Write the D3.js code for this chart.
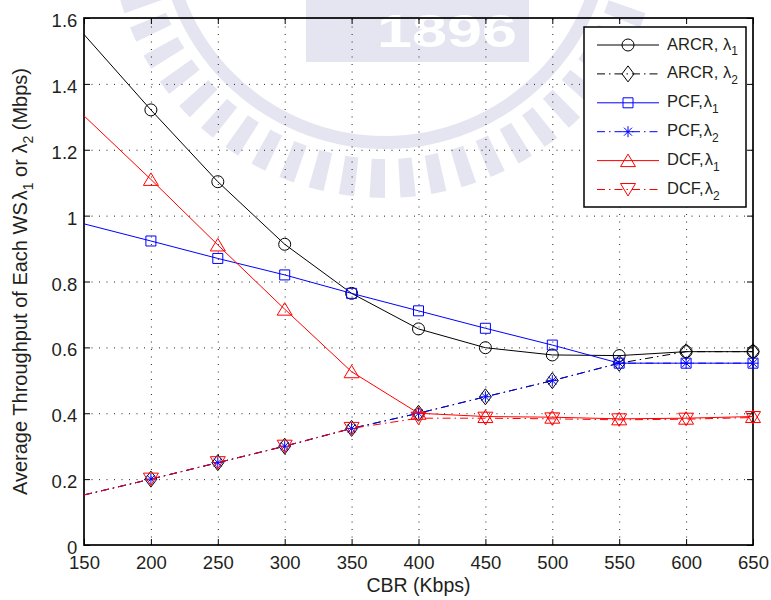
<!DOCTYPE html>
<html>
<head>
<meta charset="utf-8">
<script src="https://cdn.jsdelivr.net/npm/d3@7/dist/d3.min.js"></script>
<style>
  body { margin: 0; background: #fff; }
  svg { display: block; }
  text { font-family: "Liberation Sans", Arial, Helvetica, sans-serif; fill: #231f20; }
</style>
</head>
<body>
<svg id="chart" width="771" height="600"></svg>
<script>
// CBR load (Kbps) on the x axis
const cbr = [150, 200, 250, 300, 350, 400, 450, 500, 550, 600, 650];

// Average throughput (Mbps) per scheme and flow
const arcrL1 = [1.550, 1.321, 1.103, 0.913, 0.764, 0.656, 0.599, 0.577, 0.575, 0.587, 0.587];
const arcrL2 = [0.152, 0.200, 0.250, 0.300, 0.354, 0.400, 0.450, 0.499, 0.552, 0.587, 0.587];
const pcfL1  = [0.975, 0.923, 0.870, 0.820, 0.764, 0.711, 0.658, 0.607, 0.552, 0.552, 0.552];
const pcfL2  = [0.152, 0.200, 0.250, 0.300, 0.354, 0.400, 0.450, 0.499, 0.552, 0.552, 0.552];
const dcfL1  = [1.303, 1.110, 0.911, 0.716, 0.526, 0.400, 0.390, 0.388, 0.383, 0.385, 0.390];
const dcfL2  = [0.152, 0.200, 0.250, 0.300, 0.354, 0.385, 0.385, 0.383, 0.380, 0.382, 0.387];

// Axis ticks
const xTicks = [150, 200, 250, 300, 350, 400, 450, 500, 550, 600, 650];
const yTicks = [0, 0.2, 0.4, 0.6, 0.8, 1.0, 1.2, 1.4, 1.6];
const yTickLabels = ["0", "0.2", "0.4", "0.6", "0.8", "1", "1.2", "1.4", "1.6"];

// Legend entries: [scheme label, flow subscript]
const seriesNames = [["ARCR, ", "1"], ["ARCR, ", "2"], ["PCF,", "1"], ["PCF,", "2"], ["DCF,", "1"], ["DCF,", "2"]];

const svg = d3.select("#chart");
const pL = 84, pR = 753, pT = 18, pB = 545;
const x = d3.scaleLinear().domain([150, 650]).range([pL, pR]);
const y = d3.scaleLinear().domain([0, 1.6]).range([pB, pT]);

// ---- faint background emblem ----
const wm = svg.append("g").attr("fill", "#e5e5f1");
const ecx = 385, ecy = -78;
wm.append("path")
  .attr("transform", `translate(${ecx},${ecy})`)
  .attr("d", d3.arc()({ innerRadius: 214, outerRadius: 227, startAngle: 0, endAngle: 2 * Math.PI }));
const nRays = 56;
for (let i = 0; i < nRays; i++) {
  const a = (i / nRays) * 2 * Math.PI;
  wm.append("path")
    .attr("transform", `translate(${ecx},${ecy})`)
    .attr("d", d3.arc()({ innerRadius: 237, outerRadius: 276, startAngle: a, endAngle: a + (2 * Math.PI / nRays) * 0.5 }));
}
wm.append("rect").attr("x", 306).attr("y", 0).attr("width", 223).attr("height", 62);
wm.append("text")
  .attr("x", 377).attr("y", 47)
  .attr("textLength", 140).attr("lengthAdjust", "spacingAndGlyphs")
  .style("font-size", "47px").style("font-weight", "bold").style("fill", "#ffffff")
  .text("1896");

// ---- grid ----
const gridStyle = g => g.selectAll("line")
  .attr("stroke", "#222").attr("stroke-width", 1).attr("stroke-dasharray", "1,6.5");
svg.append("g")
  .attr("transform", `translate(0,${pB})`)
  .call(d3.axisBottom(x).tickValues(xTicks.slice(1, -1)).tickSize(-(pB - pT)).tickFormat(""))
  .call(g => g.select(".domain").remove())
  .call(gridStyle);
svg.append("g")
  .attr("transform", `translate(${pL},0)`)
  .call(d3.axisLeft(y).tickValues(yTicks.slice(1, -1)).tickSize(-(pR - pL)).tickFormat(""))
  .call(g => g.select(".domain").remove())
  .call(gridStyle);

// ---- axes with inward ticks on all four sides ----
const tickLen = 6;
const axisStyle = g => {
  g.select(".domain").remove();
  g.selectAll(".tick line").attr("stroke", "#000").attr("stroke-width", 1);
  g.selectAll("text").attr("font-family", null).style("font-size", "18.5px").style("fill", "#231f20");
};
svg.append("g")
  .attr("transform", `translate(0,${pB})`)
  .call(d3.axisBottom(x).tickValues(xTicks).tickSize(-tickLen).tickPadding(10.5).tickFormat(d3.format("d")))
  .call(axisStyle);
svg.append("g")
  .attr("transform", `translate(${pL},0)`)
  .call(d3.axisLeft(y).tickValues(yTicks).tickSize(-tickLen).tickPadding(6.7)
    .tickFormat((d, i) => yTickLabels[i]))
  .call(axisStyle)
  .call(g => g.selectAll("text").attr("dy", "0.46em"));
svg.append("g")
  .attr("transform", `translate(0,${pT})`)
  .call(d3.axisTop(x).tickValues(xTicks).tickSize(-tickLen).tickFormat(""))
  .call(axisStyle);
svg.append("g")
  .attr("transform", `translate(${pR},0)`)
  .call(d3.axisRight(y).tickValues(yTicks).tickSize(-tickLen).tickFormat(""))
  .call(axisStyle);

svg.append("rect")
  .attr("x", pL).attr("y", pT).attr("width", pR - pL).attr("height", pB - pT)
  .attr("fill", "none").attr("stroke", "#000").attr("stroke-width", 1.7);

// ---- axis titles ----
svg.append("text")
  .attr("x", (pL + pR) / 2).attr("y", 592)
  .attr("text-anchor", "middle").style("font-size", "19.5px")
  .text("CBR (Kbps)");

const yTitle = svg.append("text")
  .attr("transform", `translate(26.5,${(pT + pB) / 2}) rotate(-90)`)
  .attr("text-anchor", "middle").style("font-size", "20px");
yTitle.append("tspan").text("Average Throughput of Each WS");
yTitle.append("tspan").attr("dx", 2).text("λ");
yTitle.append("tspan").attr("dy", 6).style("font-size", "14px").text("1");
yTitle.append("tspan").attr("dy", -6).text(" or λ");
yTitle.append("tspan").attr("dy", 6).style("font-size", "14px").text("2");
yTitle.append("tspan").attr("dy", -6).text(" (Mbps)");

// ---- markers ----
const markerPath = {
  circle: "M6,0A6,6 0 1,1 -6,0A6,6 0 1,1 6,0Z",
  diamond: "M0,-8L6,0L0,8L-6,0Z",
  square: "M-5,-5H5V5H-5Z",
  asterisk: "M0,-5.5V5.5M-5.5,0H5.5M-4,-4L4,4M-4,4L4,-4",
  triUp: "M0,-6.5L7.5,6L-7.5,6Z",
  triDown: "M0,6.5L7.5,-6L-7.5,-6Z"
};

const series = [
  { values: arcrL1, color: "#000000", dash: null, marker: "circle" },
  { values: arcrL2, color: "#000000", dash: "8,4,1.5,4", marker: "diamond" },
  { values: pcfL1,  color: "#0000ff", dash: null, marker: "square" },
  { values: pcfL2,  color: "#0000ff", dash: "8,4,1.5,4", marker: "asterisk" },
  { values: dcfL1,  color: "#ff0000", dash: null, marker: "triUp" },
  { values: dcfL2,  color: "#ff0000", dash: "8,4,1.5,4", marker: "triDown" }
];

const line = d3.line().x(d => x(d[0])).y(d => y(d[1]));

series.forEach(s => {
  const pts = cbr.map((c, i) => [c, s.values[i]]);
  const g = svg.append("g");
  g.append("path")
    .attr("d", line(pts))
    .attr("fill", "none").attr("stroke", s.color).attr("stroke-width", 1)
    .attr("stroke-dasharray", s.dash);
  // markers at the simulated CBR points (the 150 Kbps start has none)
  g.selectAll("path.m").data(pts.slice(1)).join("path")
    .attr("class", "m")
    .attr("transform", d => `translate(${x(d[0])},${y(d[1])})`)
    .attr("d", markerPath[s.marker])
    .attr("fill", "none").attr("stroke", s.color).attr("stroke-width", 1);
});

// ---- legend ----
const lg = svg.append("g");
lg.append("rect")
  .attr("x", 584).attr("y", 27).attr("width", 162).attr("height", 180)
  .attr("fill", "#fff").attr("stroke", "#000").attr("stroke-width", 1.5);
const rowY = d3.scaleLinear().domain([0, 5]).range([45, 189.5]);
series.forEach((s, i) => {
  const yy = rowY(i);
  lg.append("line")
    .attr("x1", 597).attr("x2", 659).attr("y1", yy).attr("y2", yy)
    .attr("stroke", s.color).attr("stroke-width", 1).attr("stroke-dasharray", s.dash);
  lg.append("path")
    .attr("transform", `translate(628,${yy})`)
    .attr("d", markerPath[s.marker])
    .attr("fill", "none").attr("stroke", s.color).attr("stroke-width", 1);
  const t = lg.append("text").attr("x", 667).attr("y", yy + 4.5).style("font-size", "16.5px");
  t.append("tspan").text(seriesNames[i][0]);
  t.append("tspan").attr("dx", seriesNames[i][0].endsWith(" ") ? 0 : 1).text("λ");
  t.append("tspan").attr("dy", 5.5).style("font-size", "12px").text(seriesNames[i][1]);
});
</script>
</body>
</html>
